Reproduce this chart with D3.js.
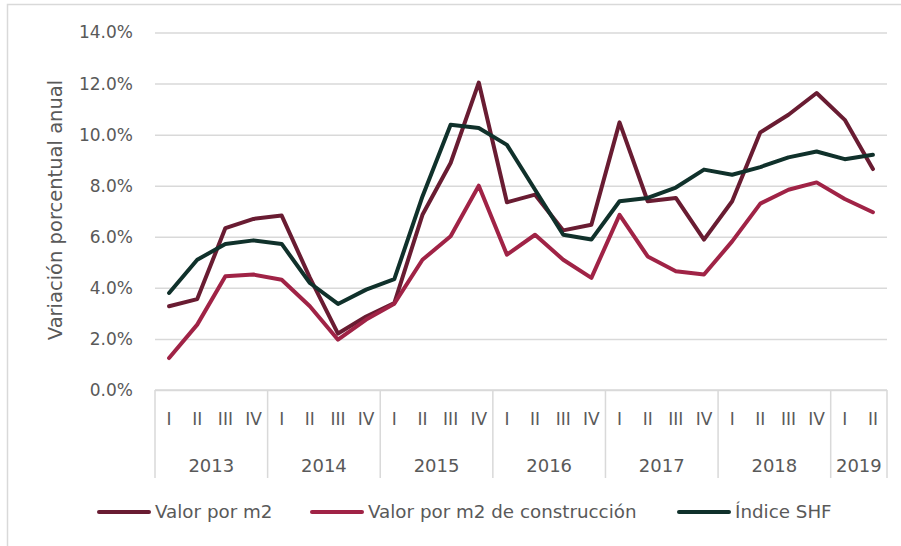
<!DOCTYPE html>
<html>
<head>
<meta charset="utf-8">
<script src="https://cdn.jsdelivr.net/npm/d3@7"></script>
<style>
  html, body { margin: 0; padding: 0; background: #fff; }
  svg text { font-family: "DejaVu Sans", sans-serif; fill: #595959; }
</style>
</head>
<body>
<svg id="chart" width="901" height="546"></svg>
<script>
// years and how many quarters each one shows
const years = ['2013', '2014', '2015', '2016', '2017', '2018', '2019'];
const quartersPerYear = [4, 4, 4, 4, 4, 4, 2];
const quarterNames = ['I', 'II', 'III', 'IV'];

// annual variation, percent
const valorM2 = [3.28, 3.56, 6.34, 6.70, 6.83, 4.40, 2.21, 2.88, 3.40, 6.86, 8.89, 12.04, 7.35,
                 7.65, 6.25, 6.47, 10.48, 7.39, 7.52, 5.89, 7.39, 10.09, 10.78, 11.63, 10.58, 8.65];
const valorConstruccion = [1.25, 2.56, 4.45, 4.52, 4.32, 3.28, 1.97, 2.76, 3.38, 5.10, 6.02, 8.00, 5.30,
                           6.08, 5.10, 4.39, 6.86, 5.23, 4.65, 4.52, 5.82, 7.30, 7.84, 8.13, 7.48, 6.96];
const indiceSHF = [3.80, 5.10, 5.72, 5.86, 5.72, 4.19, 3.37, 3.93, 4.34, 7.58, 10.39, 10.26, 9.60,
                   7.84, 6.08, 5.89, 7.39, 7.52, 7.93, 8.63, 8.43, 8.73, 9.11, 9.34, 9.04, 9.21];
const yTicks = [0, 2, 4, 6, 8, 10, 12, 14];

const seriesNames = ['Valor por m2', 'Valor por m2 de construcción', 'Índice SHF'];
const seriesColors = ['#691C32', '#A02346', '#10312B'];
const seriesValues = [valorM2, valorConstruccion, indiceSHF];

// category keys, e.g. "2013-I"
let categories = [];
years.forEach((y, i) => {
    for(let q = 0; q < quartersPerYear[i]; q++) categories.push(y + '-' + quarterNames[q]);
});

const svg = d3.select('#chart');
const margin = {left: 155, right: 887, top: 32.5, bottom: 390};
const grid = '#d9d9d9';

// outer frame
svg.append('rect')
    .attr('x', 7.5).attr('y', 4.5)
    .attr('width', 920).attr('height', 560)
    .attr('fill', 'none').attr('stroke', grid).attr('stroke-width', 1.5);

const x = d3.scaleBand().domain(categories).range([margin.left, margin.right]).padding(0);
const y = d3.scaleLinear().domain([0, 14]).range([margin.bottom, margin.top]);

// gridlines + y labels
const yAxis = d3.axisLeft(y)
    .tickValues(yTicks)
    .tickSize(-(margin.right - margin.left))
    .tickPadding(22)
    .tickFormat(d => d.toFixed(1) + '%');

let gy = svg.append('g')
    .attr('transform', `translate(${margin.left},0)`)
    .call(yAxis);
gy.select('.domain').remove();
gy.selectAll('.tick line').attr('stroke', grid).attr('stroke-width', 1.5);
gy.selectAll('.tick text').attr('font-size', 17).attr('fill', '#595959')
    .attr('font-family', '"DejaVu Sans", sans-serif');

// x axis: quarter labels
const xAxis = d3.axisBottom(x).tickSize(0).tickPadding(23)
    .tickFormat(d => d.split('-')[1]);
let gx = svg.append('g')
    .attr('transform', `translate(0,${margin.bottom})`)
    .call(xAxis);
gx.select('.domain').remove();
gx.selectAll('.tick text').attr('font-size', 17).attr('fill', '#595959')
    .attr('font-family', '"DejaVu Sans", sans-serif');

// x axis: baseline + year separators + year labels
svg.append('line')
    .attr('x1', margin.left).attr('x2', margin.right)
    .attr('y1', margin.bottom).attr('y2', margin.bottom)
    .attr('stroke', grid).attr('stroke-width', 1.5);

let start = 0;
let bounds = [];
years.forEach((yr, i) => {
    let first = categories[start], last = categories[start + quartersPerYear[i] - 1];
    bounds.push({yr, x0: x(first), x1: x(last) + x.bandwidth()});
    start += quartersPerYear[i];
});

svg.append('g').selectAll('line')
    .data([bounds[0].x0].concat(bounds.map(b => b.x1)))
    .join('line')
    .attr('x1', d => d).attr('x2', d => d)
    .attr('y1', margin.bottom).attr('y2', 478)
    .attr('stroke', grid).attr('stroke-width', 1.5);

svg.append('g').selectAll('text')
    .data(bounds)
    .join('text')
    .attr('x', d => (d.x0 + d.x1) / 2)
    .attr('y', 472)
    .attr('text-anchor', 'middle')
    .attr('font-size', 18)
    .text(d => d.yr);

// y title
svg.append('text')
    .attr('transform', 'translate(62,210) rotate(-90)')
    .attr('text-anchor', 'middle')
    .attr('font-size', 19.5)
    .text('Variación porcentual anual');

// lines
const line = d3.line()
    .x((d, i) => x(categories[i]) + x.bandwidth() / 2)
    .y(d => y(d));

svg.append('g').selectAll('path')
    .data(seriesValues)
    .join('path')
    .attr('d', line)
    .attr('fill', 'none')
    .attr('stroke', (d, i) => seriesColors[i])
    .attr('stroke-width', 4)
    .attr('stroke-linejoin', 'round')
    .attr('stroke-linecap', 'round');

// legend
const legendX = [99, 312, 679];
let lg = svg.append('g').selectAll('g')
    .data(seriesNames)
    .join('g')
    .attr('transform', (d, i) => `translate(${legendX[i]},512)`);

lg.append('line')
    .attr('x1', 0).attr('x2', 50)
    .attr('stroke', (d, i) => seriesColors[i])
    .attr('stroke-width', 4)
    .attr('stroke-linecap', 'round');

lg.append('text')
    .attr('x', 56)
    .attr('dy', '0.35em')
    .attr('font-size', 18.3)
    .text(d => d);
</script>
</body>
</html>
